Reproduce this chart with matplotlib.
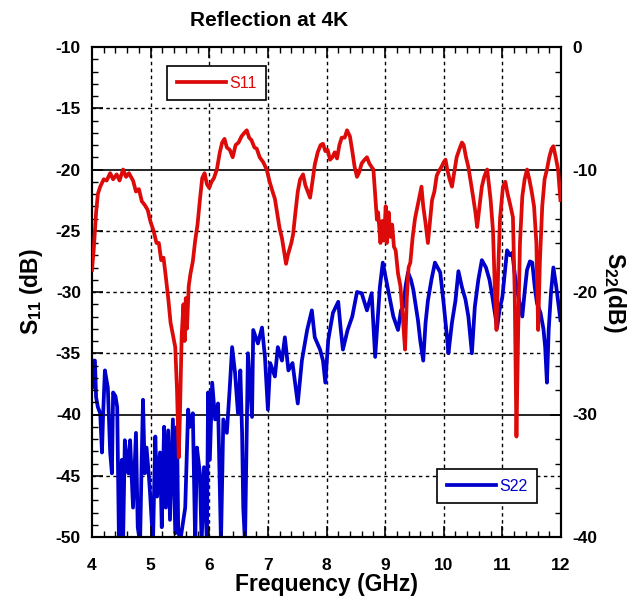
import matplotlib
matplotlib.use("Agg")
import matplotlib.pyplot as plt
from matplotlib.ticker import MultipleLocator

plt.rcParams['font.family'] = ['Liberation Sans', 'DejaVu Sans']
plt.rcParams['font.weight'] = 'bold'
plt.rcParams['axes.unicode_minus'] = False
plt.rcParams['mathtext.fontset'] = 'custom'
plt.rcParams['mathtext.rm'] = 'Liberation Sans:bold'
plt.rcParams['mathtext.bf'] = 'Liberation Sans:bold'

title = "Reflection at 4K"
xlabel = "Frequency (GHz)"

s11_freq = [4.00, 4.03, 4.07, 4.10, 4.14, 4.20, 4.25, 4.31, 4.36, 4.42, 4.47, 4.53, 4.58, 4.63, 4.70,
            4.75, 4.80, 4.85, 4.90, 4.95, 5.00, 5.05, 5.10, 5.14, 5.18, 5.22, 5.26, 5.30, 5.34, 5.38,
            5.42, 5.45, 5.48, 5.50, 5.53, 5.56, 5.58, 5.60, 5.62, 5.65, 5.68, 5.72, 5.76, 5.80, 5.84, 5.88,
            5.92, 5.96, 6.00, 6.04, 6.08, 6.13, 6.18, 6.22, 6.26, 6.30, 6.35, 6.40, 6.45, 6.50, 6.55,
            6.60, 6.64, 6.68, 6.72, 6.77, 6.81, 6.86, 6.92, 6.98, 7.03, 7.08, 7.12, 7.16, 7.20, 7.24,
            7.28, 7.31, 7.34, 7.37, 7.40, 7.43, 7.47, 7.51, 7.55, 7.60, 7.64, 7.68, 7.72, 7.76, 7.80,
            7.85, 7.90, 7.94, 7.98, 8.02, 8.06, 8.10, 8.14, 8.18, 8.22, 8.26, 8.31, 8.35, 8.40, 8.44,
            8.48, 8.52, 8.56, 8.60, 8.65, 8.69, 8.73, 8.77, 8.80, 8.83, 8.86, 8.88, 8.92, 8.95, 8.98,
            9.01, 9.03, 9.06, 9.09, 9.12, 9.15, 9.18, 9.22, 9.26, 9.30, 9.34, 9.37, 9.40, 9.43, 9.47, 9.51,
            9.54, 9.58, 9.62, 9.65, 9.69, 9.73, 9.76, 9.80, 9.84, 9.88, 9.92, 9.96, 10.00, 10.03, 10.06,
            10.10, 10.14, 10.18, 10.22, 10.27, 10.31, 10.34, 10.38, 10.42, 10.46, 10.50, 10.54, 10.57, 10.61, 10.65,
            10.69, 10.74, 10.77, 10.80, 10.84, 10.87, 10.90, 10.93, 10.96, 11.01, 11.05, 11.09, 11.13, 11.18, 11.21,
            11.24, 11.27, 11.30, 11.34, 11.38, 11.42, 11.46, 11.50, 11.54, 11.58, 11.61, 11.64, 11.68, 11.72, 11.76,
            11.80, 11.84, 11.87, 11.91, 11.95, 11.99]
s11_db = [-28.2, -26.5, -23.5, -22.0, -21.4, -20.8, -20.9, -20.3, -20.8, -20.4, -20.9, -20.0, -20.6, -20.3, -20.9,
          -21.8, -21.6, -22.6, -22.9, -23.3, -24.3, -25.0, -26.0, -26.0, -27.4, -27.2, -28.8, -30.5, -32.5, -33.5,
          -34.5, -38.0, -43.5, -40.0, -33.5, -31.0, -34.0, -30.5, -33.0, -29.5, -28.5, -27.5, -25.8, -24.5, -22.5, -20.7,
          -20.3, -21.2, -21.5, -21.0, -20.7, -20.0, -18.6, -17.8, -17.5, -18.2, -18.4, -19.0, -18.0, -17.8, -17.3,
          -17.0, -16.8, -17.4, -17.6, -18.2, -18.3, -19.0, -19.4, -20.0, -21.0, -21.8, -22.4, -23.6, -24.8, -25.6,
          -26.8, -27.7, -27.0, -26.5, -26.0, -25.3, -23.5, -21.8, -20.8, -20.4, -21.3, -21.8, -22.3, -21.0, -19.6,
          -18.6, -18.0, -17.9, -18.5, -18.4, -19.2, -19.0, -18.6, -19.1, -18.0, -17.4, -17.4, -16.8, -17.3, -18.5,
          -19.8, -20.6, -20.2, -19.5, -19.2, -19.0, -19.5, -19.8, -20.0, -22.0, -24.1, -23.5, -26.0, -24.2, -25.8,
          -23.0, -26.0, -23.5, -25.5, -24.5, -26.3, -26.6, -28.5, -29.5, -32.0, -34.7, -30.5, -28.0, -27.6, -25.5, -24.0,
          -23.3, -22.4, -21.4, -23.0, -24.4, -26.0, -24.5, -22.5, -21.8, -20.5, -20.1, -19.8, -19.4, -19.2, -20.0,
          -20.8, -21.4, -20.2, -19.0, -18.3, -17.8, -18.0, -19.0, -19.8, -21.0, -22.2, -23.5, -24.7, -23.0, -21.4,
          -20.6, -20.0, -21.2, -22.5, -25.0, -29.5, -33.1, -28.0, -24.0, -21.4, -21.0, -22.0, -22.8, -23.9, -30.0,
          -41.8, -33.0, -26.0, -22.2, -20.8, -20.0, -20.8, -21.8, -23.0, -26.0, -33.1, -27.5, -23.0, -20.8, -20.0,
          -19.0, -18.3, -18.1, -19.0, -20.0, -22.5]

s22_freq = [4.00, 4.02, 4.05, 4.07, 4.10, 4.14, 4.17, 4.19, 4.22, 4.27, 4.31, 4.34, 4.36, 4.40, 4.43,
            4.46, 4.49, 4.51, 4.53, 4.56, 4.59, 4.62, 4.65, 4.70, 4.75, 4.78, 4.82, 4.85, 4.87, 4.90,
            4.93, 4.97, 4.99, 5.04, 5.08, 5.11, 5.16, 5.19, 5.23, 5.26, 5.30, 5.33, 5.38, 5.42, 5.45,
            5.47, 5.50, 5.59, 5.64, 5.67, 5.72, 5.76, 5.79, 5.84, 5.87, 5.91, 5.96, 5.98, 6.01, 6.05,
            6.10, 6.15, 6.20, 6.24, 6.30, 6.35, 6.39, 6.44, 6.49, 6.53, 6.56, 6.58, 6.61, 6.66, 6.73,
            6.75, 6.83, 6.90, 6.95, 7.00, 7.04, 7.12, 7.17, 7.24, 7.29, 7.35, 7.42, 7.51, 7.58, 7.67,
            7.75, 7.80, 7.89, 7.94, 7.98, 8.03, 8.11, 8.20, 8.24, 8.28, 8.36, 8.44, 8.52, 8.60, 8.69,
            8.77, 8.83, 8.91, 8.96, 9.05, 9.14, 9.22, 9.27, 9.31, 9.35, 9.39, 9.44, 9.48, 9.56, 9.60,
            9.65, 9.69, 9.73, 9.79, 9.85, 9.94, 10.00, 10.06, 10.08, 10.14, 10.20, 10.25, 10.31, 10.37, 10.42,
            10.48, 10.53, 10.59, 10.65, 10.72, 10.78, 10.83, 10.88, 10.91, 10.95, 11.00, 11.04, 11.08, 11.13, 11.17,
            11.21, 11.25, 11.30, 11.34, 11.38, 11.42, 11.47, 11.51, 11.55, 11.59, 11.65, 11.70, 11.73, 11.76, 11.79,
            11.83, 11.87, 11.92, 11.99]
s22_db = [-27.8, -25.6, -25.6, -28.6, -29.4, -29.9, -33.1, -30.0, -26.4, -27.8, -33.1, -34.8, -28.2, -28.5, -29.4,
          -40.5, -35.0, -33.7, -40.5, -32.1, -33.5, -34.8, -32.1, -37.6, -31.5, -39.2, -40.5, -33.1, -28.8, -34.8,
          -32.7, -35.0, -36.4, -40.5, -31.8, -36.7, -33.1, -39.2, -31.0, -37.6, -31.3, -38.6, -30.4, -39.7, -31.0,
          -39.2, -40.5, -37.6, -29.6, -31.0, -29.9, -40.5, -32.7, -34.8, -40.5, -34.3, -40.5, -28.2, -33.7, -27.4,
          -30.4, -29.1, -40.5, -30.4, -31.5, -27.8, -24.5, -26.6, -29.9, -26.4, -31.5, -37.6, -40.5, -25.0, -30.2,
          -23.1, -24.2, -22.9, -25.3, -29.6, -25.8, -26.9, -24.5, -25.6, -23.7, -26.4, -25.8, -29.1, -25.6, -23.1,
          -21.5, -23.7, -24.7, -25.6, -27.4, -23.9, -21.7, -20.8, -22.9, -24.7, -23.1, -22.0, -20.0, -20.1, -21.5,
          -20.1, -25.3, -19.6, -17.6, -19.8, -22.0, -23.1, -21.5, -21.2, -19.5, -18.4, -19.0, -19.8, -22.3, -24.0,
          -25.6, -22.5, -20.7, -19.0, -17.6, -18.4, -21.0, -23.9, -25.0, -22.5, -20.7, -18.3, -19.6, -20.6, -22.0,
          -25.0, -21.2, -19.0, -17.4, -18.0, -19.0, -20.4, -22.0, -22.9, -21.5, -20.4, -18.5, -16.6, -17.0, -16.8,
          -18.5, -19.8, -21.0, -22.0, -20.0, -18.2, -17.5, -17.6, -19.5, -20.9, -21.7, -23.0, -24.5, -27.4, -23.1,
          -20.0, -18.0, -19.6, -22.3]

red = '#dd0a0a'
blue = '#0000cc'

fig = plt.figure(figsize=(6.38, 6.03), dpi=100)
ax = fig.add_axes([92/638, 1-537/603, 469/638, 490/603])
ax2 = ax.twinx()
ax.set_zorder(ax2.get_zorder() + 1)
ax.patch.set_visible(False)

ax.set_xlim(4, 12)
ax.set_ylim(-50, -10)
ax2.set_ylim(-40, 0)

# grid
for xv in range(5, 12):
    ax2.axvline(xv, color='black', lw=1.0, ls=(0, (2.5, 2.5)), zorder=0)
for yv in [-15, -25, -30, -35, -45]:
    ax2.axhline(yv + 10, color='black', lw=1.0, ls=(0, (2.5, 2.5)), zorder=0)
for yv in [-20, -40]:
    ax2.axhline(yv + 10, color='black', lw=1.2, ls='-', zorder=0)

l2, = ax2.plot(s22_freq, s22_db, color=blue, lw=2.7, label='S22', solid_joinstyle='round', zorder=2)
l1, = ax.plot(s11_freq, s11_db, color=red, lw=2.7, label='S11', solid_joinstyle='round', zorder=3)

ax.xaxis.set_major_locator(MultipleLocator(1))
ax.xaxis.set_minor_locator(MultipleLocator(0.2))
ax.yaxis.set_major_locator(MultipleLocator(5))
ax.yaxis.set_minor_locator(MultipleLocator(1))
ax2.yaxis.set_major_locator(MultipleLocator(10))
ax2.yaxis.set_minor_locator(MultipleLocator(2))

ax.tick_params(axis='x', which='both', direction='in', top=True, bottom=True, labelsize=12.5, pad=15)
ax.tick_params(axis='y', which='both', direction='in', left=True, right=False, labelsize=12.5, pad=8)
ax2.tick_params(axis='y', which='both', direction='in', right=True, labelsize=12.5, pad=8)
for a in (ax, ax2):
    a.tick_params(which='major', length=8, width=1.2)
    a.tick_params(which='minor', length=4, width=1.0)
    for s in a.spines.values():
        s.set_linewidth(1.5)
for lab in ax.get_xticklabels() + ax.get_yticklabels() + ax2.get_yticklabels():
    lab.set_fontweight('bold')

ax.set_xlabel(xlabel, fontsize=16.5, fontweight='bold', labelpad=0)
ax.set_ylabel(r'S$_{\mathbf{11}}$ (dB)', fontsize=16.5, fontweight='bold', labelpad=8)
ax2.set_ylabel(r'S$_{\mathbf{22}}$(dB)', fontsize=16.5, fontweight='bold', rotation=270, labelpad=22)
fig.text(269/638, 1-20/603, title, ha='center', va='center', fontsize=15, fontweight='bold')

leg1 = ax.legend(handles=[l1], loc='upper left', bbox_to_anchor=(0.16, 0.961), frameon=True,
                 fancybox=False, edgecolor='black', framealpha=1, handlelength=3.1, borderpad=0.6,
                 labelcolor='linecolor', prop={'size': 11.5, 'weight': 'normal'}, handletextpad=0.2,
                 borderaxespad=0)
leg1.get_frame().set_linewidth(1.2)
leg2 = ax.legend(handles=[l2], loc='lower left', bbox_to_anchor=(0.736, 0.069), frameon=True,
                 fancybox=False, edgecolor='black', framealpha=1, handlelength=3.1, borderpad=0.6,
                 labelcolor='linecolor', prop={'size': 11.5, 'weight': 'normal'}, handletextpad=0.2,
                 borderaxespad=0)
leg2.get_frame().set_linewidth(1.2)
ax.add_artist(leg1)

fig.savefig('out.png', dpi=100)
